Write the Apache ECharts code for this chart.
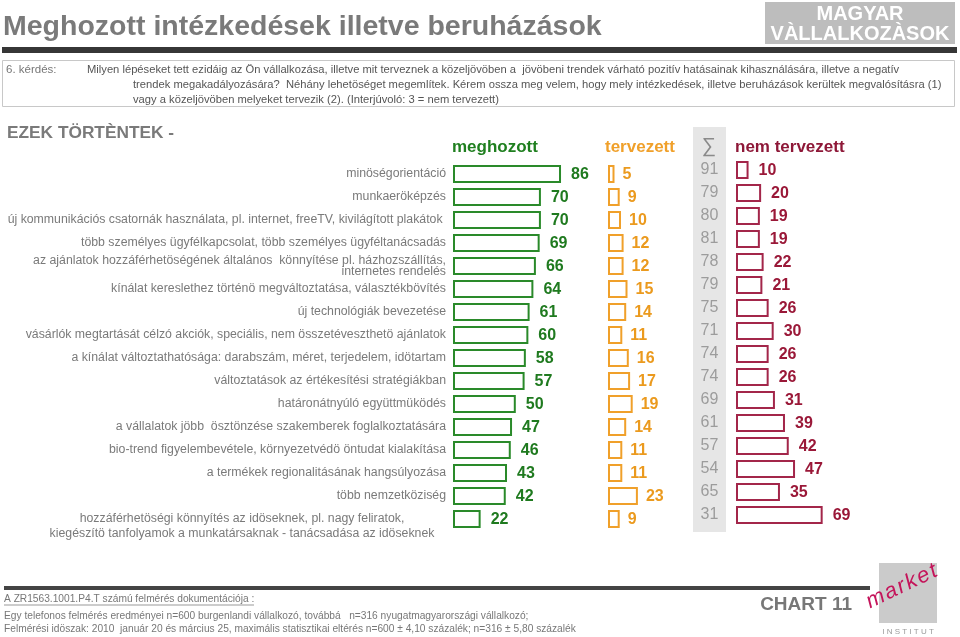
<!DOCTYPE html>
<html>
<head>
<meta charset="utf-8">
<script src="https://cdn.jsdelivr.net/npm/echarts@6/dist/echarts.min.js"></script>
<style>
html,body{margin:0;padding:0;background:#fff;}
#c{width:960px;height:637px;}
</style>
</head>
<body>
<div id="c"></div>
<script>
const categories = [
  'minöségorientáció',
  'munkaeröképzés',
  'új kommunikációs csatornák használata, pl. internet, freeTV, kivilágított plakátok ',
  'több személyes ügyfélkapcsolat, több személyes ügyféltanácsadás',
  'az ajánlatok hozzáférhetöségének általános  könnyítése pl. házhozszállítás,\ninternetes rendelés',
  'kínálat kereslethez történö megváltoztatása, választékbövítés',
  'új technológiák bevezetése',
  'vásárlók megtartását célzó akciók, speciális, nem összetéveszthetö ajánlatok',
  'a kínálat változtathatósága: darabszám, méret, terjedelem, idötartam',
  'változtatások az értékesítési stratégiákban',
  'határonátnyúló együttmüködés',
  'a vállalatok jöbb  ösztönzése szakemberek foglalkoztatására',
  'bio-trend figyelembevétele, környezetvédö öntudat kialakítása',
  'a termékek regionalitásának hangsúlyozása',
  'több nemzetköziség',
  'hozzáférhetöségi könnyítés az idöseknek, pl. nagy feliratok,\nkiegészítö tanfolyamok a munkatársaknak - tanácsadása az idöseknek'
];
const meghozott = [86,70,70,69,66,64,61,60,58,57,50,47,46,43,42,22];
const tervezett = [5,9,10,12,12,15,14,11,16,17,19,14,11,11,23,9];
const osszes = [91,79,80,81,78,79,75,71,74,74,69,61,57,54,65,31];
const nemTervezett = [10,20,19,19,22,21,26,30,26,26,31,39,42,47,35,69];
const seriesNames = ['meghozott','tervezett','\u2211','nem tervezett'];

const GREEN = '#2a8a2a', GREEN_T = '#1f7a1f';
const ORANGE = '#f0a02a', ORANGE_T = '#eb9a1e';
const RED = '#a3264a', RED_T = '#9a1838';
const FONT = 'Arial, "Liberation Sans", sans-serif';
const LBL = 12.3;

const chart = echarts.init(document.getElementById('c'), null, {renderer:'canvas'});

const rowH = 23, nRows = categories.length;
const topA = 162.5, topB = 158.5;

function catData(styled) {
  if (!styled) return categories;
  return categories.map((c, i) => {
    if (i === nRows - 1) {
      return {value:c, textStyle:{align:'center', lineHeight:15, padding:[8,408,0,0]}};
    }
    return c;
  });
}
function catAxis(gi, showLabels) {
  const ax = {
    type:'category', gridIndex:gi, data:catData(showLabels), inverse:true,
    axisLine:{show:false}, axisTick:{show:false}, splitLine:{show:false},
    axisLabel:{show:false}
  };
  if (showLabels) {
    ax.axisLabel = {
      show:true, interval:0, hideOverlap:false, margin:7, color:'#7a7a7a', fontSize:LBL, fontFamily:FONT,
      lineHeight:11, padding:[8,0,0,0],
      formatter:function(v, i){ return i === nRows - 1 ? '\n' + v : v; }
    };
  }
  return ax;
}
function valAxis(gi, max) {
  return {type:'value', gridIndex:gi, min:0, max:max, show:false, splitLine:{show:false}};
}
function grid(left, top, width) {
  return {left:left, top:top, width:width, height:rowH*nRows, containLabel:false, outerBoundsMode:'none'};
}

const option = {
  animation:false,
  backgroundColor:'#ffffff',
  grid:[grid(453, topA, 125.6), grid(608, topA, 130), grid(693, topB, 33), grid(736, topB, 125.6)],
  xAxis:[valAxis(0,100), valAxis(1,100), valAxis(2,1), valAxis(3,100)],
  yAxis:[catAxis(0,true), catAxis(1,false), catAxis(2,false), catAxis(3,false)],
  series:[
    {
      name:seriesNames[0], type:'bar', xAxisIndex:0, yAxisIndex:0, data:meghozott, barWidth:18,
      itemStyle:{color:'rgba(255,255,255,0)', borderColor:GREEN, borderWidth:2},
      label:{show:true, position:'right', distance:10, color:GREEN_T, fontSize:16, fontWeight:'bold', fontFamily:FONT, offset:[0,1]}
    },
    {
      name:seriesNames[1], type:'bar', xAxisIndex:1, yAxisIndex:1, data:tervezett, barWidth:18,
      itemStyle:{color:'rgba(255,255,255,0)', borderColor:ORANGE, borderWidth:2},
      label:{show:true, position:'right', distance:8, color:ORANGE_T, fontSize:16, fontWeight:'bold', fontFamily:FONT, offset:[0,1]}
    },
    {
      name:seriesNames[2], type:'scatter', xAxisIndex:2, yAxisIndex:2,
      data:osszes.map((v,i)=>[0.5,i]), symbolSize:1, itemStyle:{color:'rgba(0,0,0,0)'},
      label:{show:true, position:'inside', formatter:p=>String(osszes[p.dataIndex]), color:'#8a8a8a', fontSize:16, fontFamily:FONT}
    },
    {
      name:seriesNames[3], type:'bar', xAxisIndex:3, yAxisIndex:3, data:nemTervezett, barWidth:18,
      itemStyle:{color:'rgba(255,255,255,0)', borderColor:RED, borderWidth:2},
      label:{show:true, position:'right', distance:10, color:RED_T, fontSize:16, fontWeight:'bold', fontFamily:FONT, offset:[0,1]}
    }
  ],
  graphic:[
    {type:'rect', z:-1, shape:{x:693, y:127, width:33, height:405}, style:{fill:'#e6e6e6'}},
    {type:'text', left:3, top:13, style:{text:'Meghozott intézkedések illetve beruházások', fill:'#7a7a7a', font:'bold 28.5px '+FONT}},
    {type:'rect', shape:{x:765, y:2, width:190, height:42}, style:{fill:'#bdbdbd'}},
    {type:'text', x:860, y:14, style:{text:'MAGYAR', fill:'#ffffff', font:'bold 20px '+FONT, align:'center', verticalAlign:'middle'}},
    {type:'text', x:860, y:34, style:{text:'VÀLLALKOZÀSOK', fill:'#ffffff', font:'bold 20px '+FONT, align:'center', verticalAlign:'middle'}},
    {type:'rect', shape:{x:2, y:47, width:955, height:6}, style:{fill:'#363636'}},
    {type:'rect', shape:{x:2.5, y:60.5, width:952, height:46}, style:{fill:'none', stroke:'#c8c8c8', lineWidth:1}},
    {type:'text', x:6, y:70, style:{text:'6. kérdés:', fill:'#777', font:'11.5px '+FONT, verticalAlign:'middle'}},
    {type:'text', x:87, y:70, style:{text:'Milyen lépéseket tett ezidáig az Ön vállalkozása, illetve mit terveznek a közeljövöben a  jövöbeni trendek várható pozitív hatásainak kihasználására, illetve a negatív', fill:'#555', font:'11.2px '+FONT, verticalAlign:'middle'}},
    {type:'text', x:133, y:85, style:{text:'trendek megakadályozására?  Néhány lehetöséget megemlítek. Kérem ossza meg velem, hogy mely intézkedések, illetve beruházások kerültek megvalósításra (1)', fill:'#555', font:'11.2px '+FONT, verticalAlign:'middle'}},
    {type:'text', x:133, y:100, style:{text:'vagy a közeljövöben melyeket tervezik (2). (Interjúvoló: 3 = nem tervezett)', fill:'#555', font:'11.2px '+FONT, verticalAlign:'middle'}},
    {type:'text', x:7, y:133, style:{text:'EZEK TÖRTÈNTEK -', fill:'#7a7a7a', font:'bold 17.3px '+FONT, verticalAlign:'middle'}},
    {type:'text', x:452, y:147, style:{text:seriesNames[0], fill:'#1f7f1f', font:'bold 17px '+FONT, verticalAlign:'middle'}},
    {type:'text', x:605, y:147, style:{text:seriesNames[1], fill:'#f0a02a', font:'bold 17px '+FONT, verticalAlign:'middle'}},
    {type:'text', x:709, y:146, style:{text:seriesNames[2], fill:'#8a8a8a', font:'20px '+FONT, align:'center', verticalAlign:'middle'}},
    {type:'text', x:735, y:147, style:{text:seriesNames[3], fill:'#8e1838', font:'bold 17px '+FONT, verticalAlign:'middle'}},
    {type:'rect', shape:{x:4, y:586, width:866, height:4}, style:{fill:'#444'}},
    {type:'text', x:4, y:599, style:{text:'A ZR1563.1001.P4.T számú felmérés dokumentációja :', fill:'#777', font:'10.2px '+FONT, verticalAlign:'middle'}},
    {type:'line', shape:{x1:4, y1:605, x2:254, y2:605}, style:{stroke:'#999', lineWidth:1}},
    {type:'text', x:4, y:616, style:{text:'Egy telefonos felmérés eredményei n=600 burgenlandi vállalkozó, továbbá   n=316 nyugatmagyarországi vállalkozó;', fill:'#777', font:'10.2px '+FONT, verticalAlign:'middle'}},
    {type:'text', x:4, y:629, style:{text:'Felmérési idöszak: 2010  január 20 és március 25, maximális statisztikai eltérés n=600 ± 4,10 százalék; n=316 ± 5,80 százalék', fill:'#777', font:'10.2px '+FONT, verticalAlign:'middle'}},
    {type:'text', x:852, y:605, style:{text:'CHART 11', fill:'#777', font:'bold 19px '+FONT, align:'right', verticalAlign:'middle'}},
    {type:'rect', shape:{x:879, y:563, width:58, height:60}, style:{fill:'#cbcbcb'}},
    {type:'text', x:872, y:613, rotation:0.45, style:{text:'m\u200Aa\u200Ar\u200Ak\u200Ae\u200At', fill:'#c4145a', font:'italic 22px '+FONT, verticalAlign:'bottom'}},
    {type:'text', x:908, y:632, style:{text:'I N S T I T U T', fill:'#9a9a9a', font:'8px '+FONT, align:'center', verticalAlign:'middle'}}
  ]
};
chart.setOption(option);
</script>
</body>
</html>
